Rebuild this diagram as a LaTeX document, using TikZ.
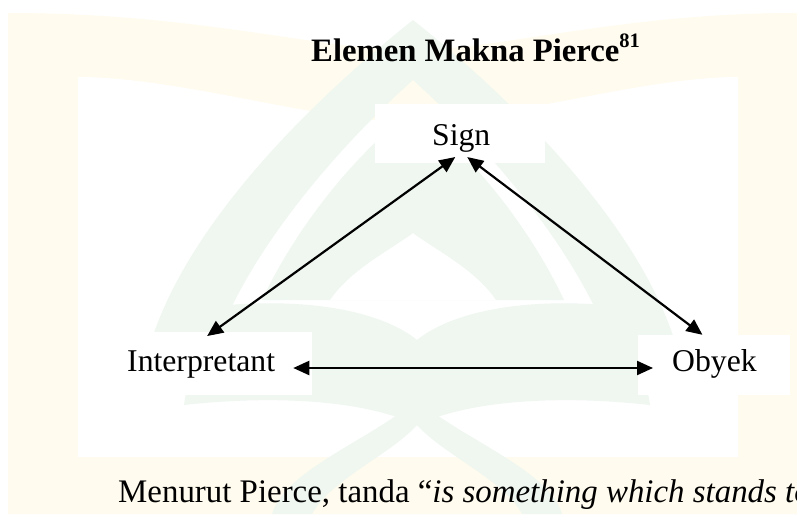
\documentclass[tikz,border=0pt]{standalone}
\usepackage{fontspec}
\setmainfont{Liberation Serif}[ItalicFont={Liberation Serif Italic},BoldFont={Liberation Serif Bold}]
\usetikzlibrary{arrows.meta}
\definecolor{wmyellow}{RGB}{255,251,238}
\definecolor{wmgreen}{RGB}{239,247,240}
\tikzset{
  lbl/.style={inner sep=0pt, anchor=base west, font=\fontsize{31.7}{38}\selectfont},
  body/.style={inner sep=0pt, anchor=base west, font=\fontsize{32.9}{40}\selectfont},
  ttl/.style={inner sep=0pt, anchor=base west, font=\fontsize{32.7}{38}\selectfont\bfseries},
  link/.style={line width=2.2pt, {Triangle[length=16pt,width=14pt]}-{Triangle[length=16pt,width=14pt]}},
  wmy/.style={fill=wmyellow, draw=none},
  wmg/.style={fill=wmgreen, draw=none},
  blank/.style={fill=white, draw=none},
}
\begin{document}
\begin{tikzpicture}[x=1pt,y=-1pt]
\useasboundingbox (0,0) rectangle (797,514);
% ---- faint watermark ----
\path[wmy] (8,13) .. controls (200,13) and (320,50) .. (410,50)
  .. controls (500,50) and (620,13) .. (797,13) -- (797,514) -- (8,514) -- cycle;
\path[blank] (78,77) .. controls (180,77) and (320,122) .. (410,122)
  .. controls (500,122) and (640,77) .. (738,77) -- (738,457) -- (78,457) -- cycle;
% outer pointed arch ribbon
\path[wmg, even odd rule]
  (150,345) .. controls (185,230) and (300,110) .. (413,20)
  .. controls (526,110) and (641,230) .. (676,345) -- cycle
  (215,345) .. controls (250,250) and (335,150) .. (413,80)
  .. controls (491,150) and (576,250) .. (611,345) -- cycle;
% inner flame
\path[wmg, even odd rule]
  (262,300) .. controls (300,220) and (360,150) .. (413,110)
  .. controls (466,150) and (526,220) .. (564,300) -- cycle
  (330,300) .. controls (350,270) and (390,250) .. (413,233)
  .. controls (436,250) and (476,270) .. (496,300) -- cycle;
% open book
\path[wmg] (200,308) .. controls (300,295) and (380,310) .. (417,340)
  .. controls (454,310) and (534,295) .. (634,308) -- (650,405)
  .. controls (560,395) and (470,400) .. (417,425)
  .. controls (364,400) and (274,395) .. (184,405) -- cycle;
% lower arch
\path[wmg, even odd rule]
  (272,514) .. controls (285,470) and (370,440) .. (417,400)
  .. controls (464,440) and (549,470) .. (562,514) -- cycle
  (312,514) .. controls (330,480) and (390,455) .. (417,425)
  .. controls (444,455) and (504,480) .. (522,514) -- cycle;
% white boxes behind the labels
\path[blank] (375,104) rectangle (545,163);
\path[blank] (78,332) rectangle (312,395);
\path[blank] (638,335) rectangle (790,395);
% ---- diagram ----
\node[ttl] (title) at (311,61) {Elemen Makna Pierce\raisebox{14pt}{\fontsize{20.5}{24}\selectfont 81}};
\node[lbl] (sign) at (432,145) {Sign};
\node[lbl] (interp) at (127,371) {Interpretant};
\node[lbl] (obyek) at (672,371) {Obyek};
\node[body] (text) at (118,502) {Menurut Pierce, tanda “\textit{is something which stands to}};
\draw[link] ([xshift=-6pt,yshift=-5pt]sign.south) -- ([xshift=6pt,yshift=14pt]interp.north);
\draw[link] ([xshift=6pt,yshift=-5pt]sign.south) -- ([xshift=-12pt,yshift=14pt]obyek.north);
\draw[link] ([xshift=18pt,yshift=3pt]interp.base east) -- ([xshift=-19pt,yshift=3pt]obyek.base west);
\end{tikzpicture}
\end{document}
